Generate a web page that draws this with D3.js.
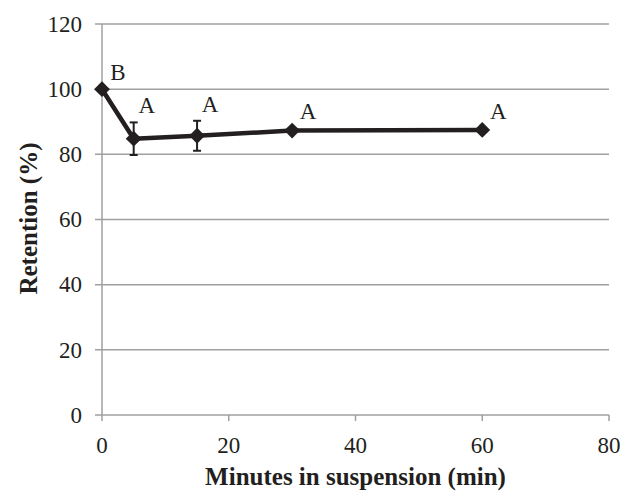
<!DOCTYPE html>
<html>
<head>
<meta charset="utf-8">
<script src="https://cdn.jsdelivr.net/npm/d3@7"></script>
<style>
  body { margin: 0; background: #fff; }
  text { font-family: "Liberation Serif", "Times New Roman", serif; fill: #231f20; }
</style>
</head>
<body>
<svg id="chart" width="636" height="491"></svg>
<script>
// retention over time in suspension
const minutes = [0, 5, 15, 30, 60];
const retention = [100, 84.8, 85.7, 87.3, 87.5];
const errors = [0, 5, 4.6, 0.8, 0.6];
const letters = ["B", "A", "A", "A", "A"];
const xTicks = [0, 20, 40, 60, 80];
const yTicks = [0, 20, 40, 60, 80, 100, 120];

const svg = d3.select("#chart");
const margin = { left: 102, right: 27, top: 24, bottom: 76 };
const width = 636 - margin.left - margin.right;
const height = 491 - margin.top - margin.bottom;

const x = d3.scaleLinear().domain([0, 80]).range([0, width]);
const y = d3.scaleLinear().domain([0, 120]).range([height, 0]);

const g = svg.append("g").attr("transform", `translate(${margin.left},${margin.top})`);

// gridlines
g.selectAll(".grid")
  .data(yTicks)
  .enter()
  .append("line")
  .attr("x1", -7)
  .attr("x2", width)
  .attr("y1", (d) => y(d))
  .attr("y2", (d) => y(d))
  .attr("stroke", "#a0a0a0")
  .attr("stroke-width", 1.5);

// y axis line
g.append("line")
  .attr("x1", 0).attr("x2", 0)
  .attr("y1", 0).attr("y2", height)
  .attr("stroke", "#a0a0a0")
  .attr("stroke-width", 1.5);

// x ticks
g.selectAll(".xtick")
  .data(xTicks)
  .enter()
  .append("line")
  .attr("x1", (d) => x(d))
  .attr("x2", (d) => x(d))
  .attr("y1", height)
  .attr("y2", height + 6)
  .attr("stroke", "#a0a0a0")
  .attr("stroke-width", 1.5);

g.selectAll(".ylab")
  .data(yTicks)
  .enter()
  .append("text")
  .attr("x", -20)
  .attr("y", (d) => y(d))
  .attr("dy", "0.34em")
  .attr("text-anchor", "end")
  .style("font-size", "23px")
  .text((d) => d);

g.selectAll(".xlab")
  .data(xTicks)
  .enter()
  .append("text")
  .attr("x", (d) => x(d))
  .attr("y", height + 38)
  .attr("text-anchor", "middle")
  .style("font-size", "23px")
  .text((d) => d);

// axis titles
svg.append("text")
  .attr("x", margin.left + width / 2)
  .attr("y", 485)
  .attr("text-anchor", "middle")
  .style("font-size", "25px")
  .style("font-weight", "bold")
  .text("Minutes in suspension (min)");

svg.append("text")
  .attr("transform", `translate(37,${margin.top + height / 2 - 1}) rotate(-90)`)
  .attr("text-anchor", "middle")
  .style("font-size", "25px")
  .style("font-weight", "bold")
  .text("Retention (%)");

const pts = minutes.map((m, i) => ({ m, r: retention[i], e: errors[i], l: letters[i] }));

// error bars
const eb = g.selectAll(".err").data(pts.filter((d) => d.e > 1)).enter().append("g");
eb.append("line")
  .attr("x1", (d) => x(d.m)).attr("x2", (d) => x(d.m))
  .attr("y1", (d) => y(d.r + d.e)).attr("y2", (d) => y(d.r - d.e))
  .attr("stroke", "#231f20").attr("stroke-width", 2);
[1, -1].forEach((s) => {
  eb.append("line")
    .attr("x1", (d) => x(d.m) - 4).attr("x2", (d) => x(d.m) + 4)
    .attr("y1", (d) => y(d.r + s * d.e)).attr("y2", (d) => y(d.r + s * d.e))
    .attr("stroke", "#231f20").attr("stroke-width", 2);
});

// line
g.append("path")
  .datum(pts)
  .attr("fill", "none")
  .attr("stroke", "#231f20")
  .attr("stroke-width", 4.5)
  .attr("stroke-linejoin", "round")
  .attr("d", d3.line().x((d) => x(d.m)).y((d) => y(d.r)));

// markers
g.selectAll(".pt")
  .data(pts)
  .enter()
  .append("path")
  .attr("transform", (d) => `translate(${x(d.m)},${y(d.r)})`)
  .attr("d", d3.symbol().type(d3.symbolDiamond2).size(160))
  .attr("fill", "#231f20");

// significance letters, sitting just above the error bar
g.selectAll(".let")
  .data(pts)
  .enter()
  .append("text")
  .attr("x", (d) => x(d.m) + (d.e > 1 ? 13 : 16))
  .attr("y", (d) => y(d.r + d.e) - 9)
  .attr("text-anchor", "middle")
  .style("font-size", "23px")
  .text((d) => d.l);
</script>
</body>
</html>
